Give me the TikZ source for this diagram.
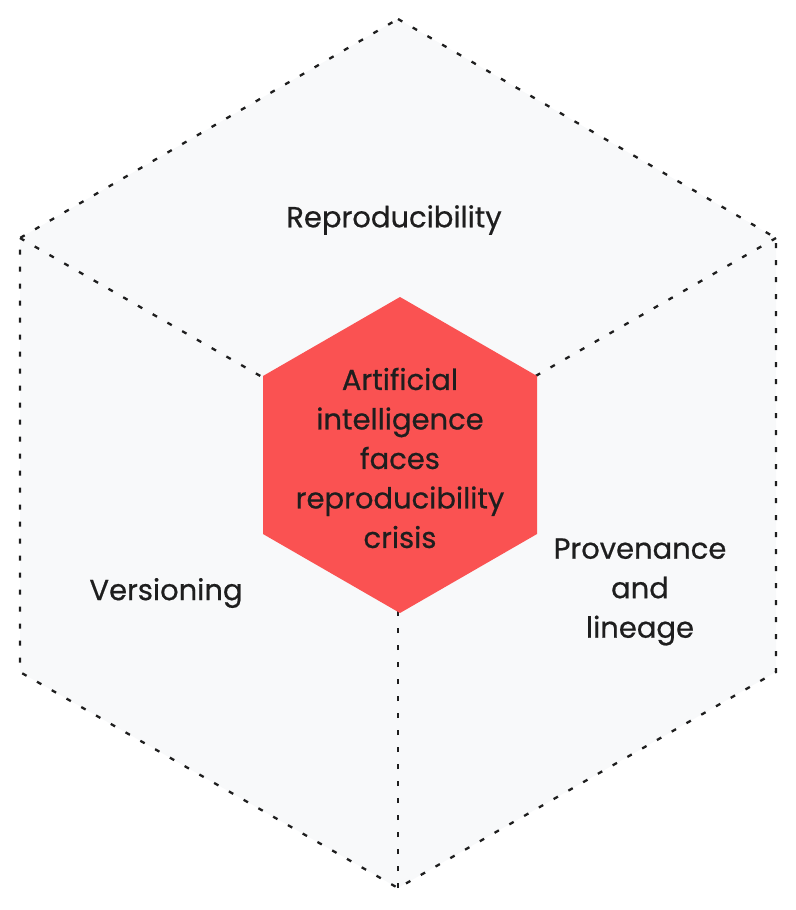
\documentclass[tikz,border=0pt]{standalone}
\usepackage{fontspec}
\setmainfont{Poppins}
\newfontfamily\lblfont{Poppins}[FakeBold=0.6]
\definecolor{facefill}{HTML}{F8F9FA}
\definecolor{hexred}{HTML}{FA5252}
\definecolor{ink}{HTML}{1E1E1E}
\begin{document}
\begin{tikzpicture}[x=1pt,y=-1pt,
  dotline/.style={draw=ink, line width=2.3pt, dash pattern=on 5pt off 12pt},
  lbl/.style={text=ink, align=center, font=\lblfont\fontsize{29}{39.5}\selectfont, inner sep=0pt}]
\useasboundingbox (0,0) rectangle (795,910);
% outer cube outline
\coordinate (ot) at (398,19);
\coordinate (our) at (776,238);
\coordinate (olr) at (776,672);
\coordinate (ob) at (398,888);
\coordinate (oll) at (20,672);
\coordinate (oul) at (20,238);
\coordinate (oc) at (398,455);
\fill[facefill] (ot) -- (our) -- (olr) -- (ob) -- (oll) -- (oul) -- cycle;
\draw[dotline] (ot) -- (our) -- (olr) -- (ob) -- (oll) -- (oul) -- cycle;
\draw[dotline] (oul) -- (oc);
\draw[dotline] (our) -- (oc);
\draw[dotline] (ob) -- (oc);
% inner hexagon
\coordinate (it) at (400,297);
\coordinate (iur) at (537,376);
\coordinate (ilr) at (537,534);
\coordinate (ib) at (400,613);
\coordinate (ill) at (263,534);
\coordinate (iul) at (263,376);
\fill[hexred] (it) -- (iur) -- (ilr) -- (ib) -- (ill) -- (iul) -- cycle;
\node[lbl] (core) at (400,458) {Artificial\\intelligence\\faces\\reproducibility\\crisis};
\node[lbl] (repro) at (394,220) {Reproducibility};
\node[lbl] (vers) at (166,593) {Versioning};
\node[lbl] (prov) at (640,592) {Provenance\\and\\lineage};
\end{tikzpicture}
\end{document}
